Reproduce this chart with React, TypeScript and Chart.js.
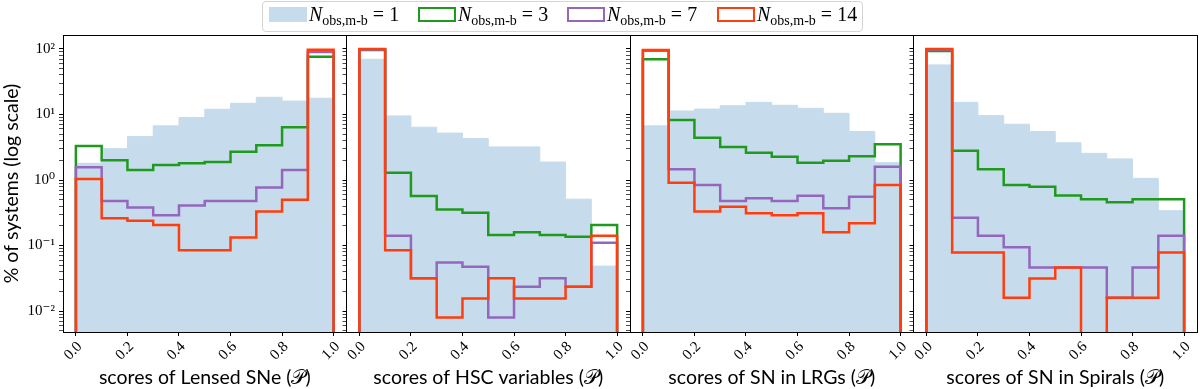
import React, { useEffect, useRef } from 'react';
import { Chart, registerables } from 'chart.js';

Chart.register(...registerables);

// ---------- data ----------
const binEdges = [0, 0.1, 0.2, 0.3, 0.4, 0.5, 0.6, 0.7, 0.8, 0.9, 1.0];
const xTickValues = [0, 0.2, 0.4, 0.6, 0.8, 1.0];
const yMajorTicks = [0.01, 0.1, 1, 10, 100];
const yTickLabels = ['10⁻²', '10⁻¹', '10⁰', '10¹', '10²'];
const nObsValues = [1, 3, 7, 14];
const panelTitles = [
  'scores of Lensed SNe (𝒫)',
  'scores of HSC variables (𝒫)',
  'scores of SN in LRGs (𝒫)',
  'scores of SN in Spirals (𝒫)',
];
const yAxisTitle = '% of systems (log scale)';

const lensedN1 = [1.8, 3.0, 4.6, 6.7, 9.0, 12, 14.8, 18.3, 16, 17.7];
const lensedN3 = [3.3, 2.0, 1.42, 1.7, 1.8, 1.88, 2.7, 3.4, 6.4, 76];
const lensedN7 = [1.56, 0.48, 0.38, 0.29, 0.41, 0.48, 0.48, 0.77, 1.42, 90];
const lensedN14 = [1.04, 0.26, 0.24, 0.205, 0.085, 0.085, 0.133, 0.33, 0.5, 97];

const hscN1 = [69.5, 9.5, 6.4, 5.2, 4.3, 3.2, 3.2, 1.88, 0.51, 0.0486];
const hscN3 = [96.5, 1.29, 0.57, 0.356, 0.317, 0.145, 0.159, 0.145, 0.136, 0.206];
const hscN7 = [98, 0.141, 0.0316, 0.0553, 0.0475, 0.008, 0.0235, 0.0316, 0.0235, 0.11];
const hscN14 = [100, 0.085, 0.0316, 0.008, 0.0156, 0.0316, 0.0156, 0.0156, 0.0235, 0.141];

const lrgN1 = [6.7, 11.3, 12.1, 13.6, 15.3, 13.8, 12.4, 10.4, 5.5, 1.84];
const lrgN3 = [69.5, 8.2, 4.4, 3.2, 2.6, 2.27, 1.84, 1.97, 2.3, 3.5];
const lrgN7 = [94, 1.46, 0.84, 0.48, 0.525, 0.48, 0.576, 0.37, 0.556, 1.6];
const lrgN14 = [96.6, 0.91, 0.33, 0.39, 0.31, 0.29, 0.31, 0.159, 0.218, 0.84];

const spiralN1 = [57, 15.3, 9.6, 7.1, 5.5, 3.7, 2.55, 2.1, 1.06, 0.34];
const spiralN3 = [93, 2.8, 1.46, 0.84, 0.79, 0.58, 0.51, 0.456, 0.51, 0.507];
const spiralN7 = [98, 0.266, 0.141, 0.094, 0.0464, 0.0464, 0.0464, 0.016, 0.0464, 0.141];
const spiralN14 = [100, 0.0787, 0.0787, 0.016, 0.0315, 0.0464, 0, 0.016, 0.016, 0.0787];

const panelSeries = [
  [lensedN1, lensedN3, lensedN7, lensedN14],
  [hscN1, hscN3, hscN7, hscN14],
  [lrgN1, lrgN3, lrgN7, lrgN14],
  [spiralN1, spiralN3, spiralN7, spiralN14],
];

// ---------- styling / layout ----------
const W = 1200;
const H = 389;
const Y_MIN = 0.0048;
const Y_MAX = 163;
const FLOOR = 1e-4;
const PANEL_LEFT = [63, 346.5, 630, 913.5];
const PANEL_W = 283.5;
const PLOT_TOP = 35;
const XAXIS_H = 57;
const FILL_COLOR = '#c6dcec';
const LINE_COLORS = ['#c6dcec', '#1f9a1f', '#9467bd', '#ff3d0d'];
const LINE_W = 2.5;
const TICK_FONT = { family: "'Liberation Serif', 'DejaVu Serif', serif", size: 15 };
const LABEL_FONT = { family: "Lato, 'Open Sans', sans-serif", size: 19.5 };

function steps(vals: number[]) {
  const pts: { x: number; y: number }[] = [{ x: binEdges[0], y: FLOOR }];
  vals.forEach((v, i) => pts.push({ x: binEdges[i], y: v > 0 ? v : FLOOR }));
  const last = vals[vals.length - 1];
  pts.push({ x: binEdges[binEdges.length - 1], y: last > 0 ? last : FLOOR });
  pts.push({ x: binEdges[binEdges.length - 1], y: FLOOR });
  return pts;
}

function yTicksAll() {
  const out: { value: number; major: boolean }[] = [];
  for (let e = -3; e <= 2; e++) {
    for (let m = 1; m <= 9; m++) {
      const v = m * Math.pow(10, e);
      if (v >= Y_MIN && v <= Y_MAX) out.push({ value: v, major: m === 1 });
    }
  }
  return out;
}

function majorLabel(v: number) {
  for (let i = 0; i < yMajorTicks.length; i++) {
    if (Math.abs(v - yMajorTicks[i]) / yMajorTicks[i] < 1e-6) return yTickLabels[i];
  }
  return '';
}

function Panel({ idx }: { idx: number }) {
  const ref = useRef<HTMLCanvasElement | null>(null);
  useEffect(() => {
    if (!ref.current) return;
    const series = panelSeries[idx];
    const first = idx === 0;
    const yw = first ? 63 : 10;
    const left = PANEL_LEFT[idx];
    const right = left + PANEL_W;
    const datasets: any[] = series.map((vals, s) => ({
      label: 'N=' + nObsValues[s],
      data: steps(vals),
      stepped: 'before',
      borderColor: LINE_COLORS[s],
      backgroundColor: s === 0 ? FILL_COLOR : 'transparent',
      borderWidth: s === 0 ? 1 : LINE_W,
      fill: s === 0 ? 'start' : false,
      pointRadius: 0,
      pointHoverRadius: 0,
      order: 4 - s,
    }));
    const chart = new Chart(ref.current, {
      type: 'line',
      data: { datasets },
      options: {
        animation: false,
        responsive: false,
        events: [],
        layout: { padding: { left: left - yw, right: W - right, top: PLOT_TOP, bottom: 0 } },
        plugins: { legend: { display: false }, tooltip: { enabled: false } },
        scales: {
          x: {
            type: 'linear',
            position: 'bottom',
            min: -0.05,
            max: 1.05,
            afterBuildTicks: (s: any) => {
              s.ticks = xTickValues.map((v) => ({ value: v }));
            },
            afterFit: (s: any) => {
              s.height = XAXIS_H;
            },
            ticks: {
              autoSkip: false,
              minRotation: 45,
              maxRotation: 45,
              color: '#000',
              font: TICK_FONT,
              padding: 2,
              labelOffset: 4,
              callback: (v: any) => Number(v).toFixed(1),
            },
            grid: { display: true, drawOnChartArea: false, drawTicks: true, tickLength: 4, tickColor: '#000', tickWidth: 1 },
            border: { display: true, color: '#000', width: 1 },
            title: { display: true, text: panelTitles[idx], color: '#000', font: LABEL_FONT, padding: 0 },
          },
          xTop: {
            type: 'linear',
            position: 'top',
            min: -0.05,
            max: 1.05,
            display: true,
            afterFit: (s: any) => {
              s.height = 0;
            },
            ticks: { display: false },
            grid: { display: false, drawTicks: false },
            border: { display: true, color: '#000', width: 1 },
          },
          y: {
            type: 'logarithmic',
            position: 'left',
            min: Y_MIN,
            max: Y_MAX,
            afterBuildTicks: (s: any) => {
              s.ticks = yTicksAll();
            },
            afterFit: (s: any) => {
              s.width = yw;
            },
            ticks: {
              display: first,
              autoSkip: false,
              color: '#000',
              font: TICK_FONT,
              padding: 4,
              callback: (v: any) => majorLabel(Number(v)),
            },
            grid: {
              display: true,
              drawOnChartArea: false,
              drawTicks: true,
              tickLength: 4,
              tickColor: '#000',
              tickWidth: (ctx: any) => (ctx.tick && ctx.tick.major ? 1 : 0.7),
            },
            border: { display: true, color: '#000', width: 1 },
            title: { display: first, text: yAxisTitle, color: '#000', font: LABEL_FONT, padding: 0 },
          },
          yRight: {
            type: 'linear',
            position: 'right',
            min: 0,
            max: 1,
            display: true,
            afterFit: (s: any) => {
              s.width = 0;
            },
            ticks: { display: false },
            grid: { display: false, drawTicks: false },
            border: { display: true, color: '#000', width: 1 },
          },
        },
      } as any,
    });
    return () => chart.destroy();
  }, [idx]);
  return (
    <canvas
      ref={ref}
      width={W}
      height={H}
      style={{ position: 'absolute', left: 0, top: 0, width: W, height: H }}
    />
  );
}

const LEGEND_LEFT = 262;
const LEGEND_ITEM_X = [6, 155, 304, 454];

function Legend() {
  return (
    <div
      style={{
        position: 'absolute',
        left: LEGEND_LEFT,
        top: 1,
        width: 601,
        height: 31,
        boxSizing: 'border-box',
        border: '1px solid #d4d4d4',
        borderRadius: 4,
        background: 'rgba(255,255,255,0.8)',
        zIndex: 5,
      }}
    >
      {nObsValues.map((n, i) => (
        <div key={n} style={{ position: 'absolute', left: LEGEND_ITEM_X[i], top: 0, height: 29 }}>
          <div
            style={{
              position: 'absolute',
              left: 0,
              top: 5,
              width: 38,
              height: 15,
              boxSizing: 'border-box',
              background: i === 0 ? FILL_COLOR : '#fff',
              border: i === 0 ? 'none' : `2.5px solid ${LINE_COLORS[i]}`,
            }}
          />
          <div
            style={{
              position: 'absolute',
              left: 40,
              top: 1,
              whiteSpace: 'nowrap',
              fontFamily: "'Liberation Serif', 'DejaVu Serif', serif",
              fontSize: 20,
              lineHeight: '22px',
              color: '#000',
            }}
          >
            <i>N</i>
            <sub style={{ fontSize: 14, lineHeight: 0, verticalAlign: '-4px' }}>obs,m-b</sub>
            <span> = {n}</span>
          </div>
        </div>
      ))}
    </div>
  );
}

export default function App() {
  return (
    <div style={{ position: 'absolute', left: 0, top: 0, width: W, height: H, background: '#fff', overflow: 'hidden' }}>
      {[0, 1, 2, 3].map((i) => (
        <Panel key={i} idx={i} />
      ))}
      <Legend />
    </div>
  );
}
